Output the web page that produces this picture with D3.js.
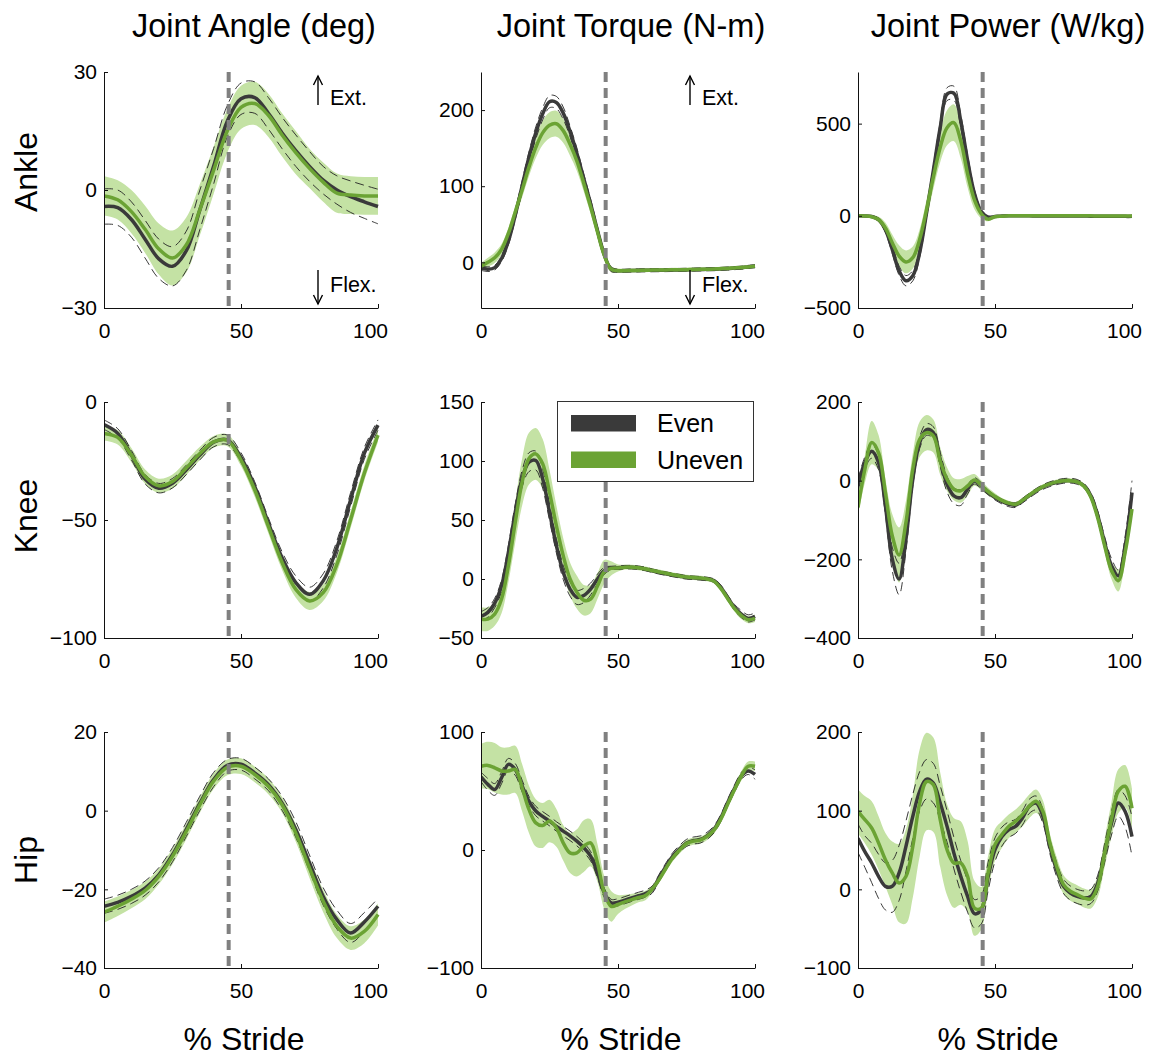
<!DOCTYPE html>
<html>
<head>
<meta charset="utf-8">
<script src="https://cdn.jsdelivr.net/npm/d3@7"></script>
<style>
  body { margin: 0; background: #fff; }
  text { font-family: "Liberation Sans", Arial, Helvetica, sans-serif; }
</style>
</head>
<body>
<svg id="chart" width="1156" height="1057"></svg>
<script>
// % stride sample points
const strideCoarse = [0, 5, 10, 15, 20, 25, 30, 35, 40, 45, 50, 55, 60, 65, 70, 75, 80, 85, 90, 95, 100];
const strideFine = [0, 2.5, 5, 7.5, 10, 12.5, 15, 17.5, 20, 22.5,
  25, 27.5, 30, 32.5, 35, 37.5, 40, 42.5, 45, 47.5,
  50, 52.5, 55, 57.5, 60, 62.5, 65, 67.5, 70, 72.5,
  75, 77.5, 80, 82.5, 85, 87.5, 90, 92.5, 95, 97.5, 100];

const colTitles = ['Joint Angle (deg)', 'Joint Torque (N-m)', 'Joint Power (W/kg)'];
const rowTitles = ['Ankle', 'Knee', 'Hip'];
const seriesNames = ['Even', 'Uneven'];
const xTicks = [0, 50, 100];
const toeOff = 45.5;

// ---- ankle ----
const ankleAngleEven = [-4.2, -4.5, -7.5, -12.5, -17.5, -19.4, -15.5, -5, 6, 17.5, 23.2, 23.5, 19.5, 14.5, 10, 6, 2.5, 0, -1.7, -3, -4.2];
const ankleAngleEvenSd = [4.5, 4.5, 4.5, 4.8, 5, 5, 5, 5, 4.5, 4, 4, 4, 4, 4, 4, 3.8, 3.5, 3.6, 4, 4.2, 4.4];
const ankleAngleUneven = [-1.5, -2.5, -5.5, -10, -15, -17.3, -14, -5, 5, 15, 21, 22, 19, 14, 9.5, 5.5, 2, -0.8, -1.3, -1.5, -1.5];
const ankleAngleUnevenSd = [5, 5, 5.5, 6, 6.5, 7, 7, 6.5, 6, 5.5, 5.5, 5.5, 5.5, 5.5, 5.5, 5, 5, 5, 4.8, 4.8, 4.8];

const ankleTorqueEven = [-7.5, -9, -7, 5, 28, 62, 100, 138, 170, 195,
  211, 210, 196, 172, 143, 110, 77, 42, 10, -9,
  -11, -11, -10.8, -10.6, -10.5, -10.4, -10.3, -10.2, -10, -10,
  -9.8, -9.6, -9.4, -9.2, -9, -8.6, -8.2, -7.6, -7, -6, -5.2];
const ankleTorqueEvenSd = [3, 3, 3, 4, 5, 6, 7, 7, 8, 8,
  8, 8, 8, 7, 7, 6, 6, 5, 4, 3,
  2, 2, 2, 2, 2, 2, 2, 2, 2, 2,
  2, 2, 2, 2, 2, 2, 2, 2, 2, 2, 2];
const ankleTorqueUneven = [-5, 0, 6, 17, 38, 66, 95, 125, 151, 170,
  180, 182, 173, 155, 133, 104, 73, 40, 9, -9,
  -11, -11, -10.8, -10.6, -10.4, -10.2, -10, -10, -9.8, -9.8,
  -9.6, -9.4, -9.2, -9, -8.8, -8.4, -8, -7.4, -6.8, -6, -5];
const ankleTorqueUnevenSd = [4, 6, 7, 7, 7, 8, 10, 12, 14, 16,
  17, 17, 16, 15, 13, 11, 9, 7, 6, 4,
  3, 2.5, 2.5, 2.5, 2.5, 2.5, 2.5, 2.5, 2.5, 2.5,
  2.5, 2.5, 2.5, 2.5, 2.5, 2.5, 2.5, 2.5, 2.5, 2.5, 2.5];

const anklePowerEven = [0, -1, -4, -21, -75, -182, -298, -352, -325, -200,
  14, 246, 478, 660, 665, 514, 300, 121, 23, -7,
  -4, -1, 0, 0, 0, 0, -1, -1, -1, -1,
  -1, -1, -1, -1, -2, -2, -2, -2, -2, -3, -3];
const anklePowerEvenSd = [3, 3, 5, 8, 15, 22, 25, 28, 28, 25,
  22, 25, 30, 35, 38, 35, 30, 20, 10, 5,
  3, 3, 3, 3, 3, 3, 3, 3, 3, 3,
  3, 3, 3, 3, 3, 3, 3, 3, 3, 3, 3];
const anklePowerUneven = [0, -1, -5, -20, -66, -146, -218, -250, -227, -128,
  32, 210, 371, 478, 505, 407, 228, 86, 11, -18,
  -5, -2, 0, 0, 0, 0, 0, 0, 0, 0,
  0, 0, 0, 0, 0, -1, -1, -1, -1, -1, -1];
const anklePowerUnevenSd = [5, 5, 8, 15, 30, 45, 58, 62, 60, 55,
  55, 65, 80, 95, 100, 95, 75, 50, 25, 12,
  6, 4, 4, 4, 4, 4, 4, 4, 4, 4,
  4, 4, 4, 4, 4, 4, 4, 4, 4, 4, 4];

// ---- knee ----
const kneeAngleEven = [-9.6, -13.3, -22.5, -32.7, -36.5, -34.4, -28.8, -22.5, -17, -16, -23.5, -35.8, -51.3, -66, -76.5, -81.5, -75.8, -61.8, -41.4, -21.8, -9.8];
const kneeAngleEvenSd = [2, 2, 2, 2, 2, 2, 2, 2, 2, 2, 2, 2, 2.2, 2.5, 2.8, 3, 3, 3, 3, 2.5, 2.2];
const kneeAngleUneven = [-13.3, -15, -22.5, -31.6, -35.5, -33.7, -28, -21.8, -16.9, -16.2, -24.6, -37.2, -52.7, -68, -79.4, -84.3, -80.8, -68.8, -49.9, -30.2, -14];
const kneeAngleUnevenSd = [3, 3, 3, 3, 3, 3, 3, 2.8, 2.5, 2.5, 2.5, 3, 3, 3.2, 3.5, 3.8, 3.5, 3.5, 3.5, 3.2, 3];

const kneeTorqueEven = [-31.7, -28.3, -20.4, -5.7, 22.6, 56.6, 85, 99, 100.4, 85,
  56.6, 28.3, 5.7, -8.5, -15.6, -14, -8.5, 0, 7, 9.3,
  9.6, 10, 10, 9.5, 8.5, 7, 5.7, 4.5, 3.4, 2.4,
  1.4, 1, 0.6, 0, -1.4, -7, -15.6, -24, -29.7, -33.4, -31.7];
const kneeTorqueEvenSd = [4, 4, 4, 5, 6, 7, 7, 8, 8, 8,
  7, 6, 6, 6, 6, 6, 5, 4, 3, 1.5,
  1.5, 1.5, 1.5, 1.5, 1.5, 1.5, 1.5, 1.5, 1.5, 1.5,
  1.5, 1.5, 1.5, 1.5, 1.5, 2, 2, 2.5, 3, 3, 3];
const kneeTorqueUneven = [-34, -34, -29.7, -17, 11.3, 48, 82, 102, 106, 97.6,
  73.5, 45.3, 19.8, 0, -11.3, -18, -17, -6, 6.2, 9,
  9.3, 10, 10, 9.5, 8.5, 7.2, 6, 4.8, 3.6, 2.6,
  1.6, 1.2, 0.8, 0, -1.8, -8, -16.5, -25, -31, -34.5, -33.4];
const kneeTorqueUnevenSd = [10, 10, 10, 12, 14, 17, 20, 22, 22, 21,
  19, 17, 15, 14, 14, 13, 12, 11, 10, 6,
  3, 2, 2, 2, 2, 2, 2, 2, 2, 2,
  2, 2, 2, 2, 2, 2, 2.5, 2.5, 3, 3, 3];

const kneePowerEven = [-13, 46, 75, 46, -64, -199, -250, -149, 3.6, 96.7,
  130, 122, 54, -9, -38.7, -43, -21.7, -0.6, -13.3, -30,
  -43, -53, -60, -62, -51, -38, -26, -16, -9, -4,
  -0.6, 0, -3, -13, -38.7, -89, -157, -216, -242, -166, -30];
const kneePowerEvenSd = [15, 15, 18, 18, 22, 30, 40, 30, 18, 15,
  15, 15, 18, 20, 20, 20, 12, 8, 8, 6,
  6, 6, 6, 6, 6, 6, 6, 6, 6, 6,
  6, 6, 6, 6, 8, 12, 15, 18, 15, 25, 30];
const kneePowerUneven = [-68, 29, 96.7, 71, -30, -140, -189, -106, 29, 105,
  122, 113.6, 50, 3.6, -21.7, -26, -13.3, 2, -11.6, -28,
  -40, -50, -57, -60, -50, -37, -25, -15, -8, -3,
  0, 0, -3, -14, -42, -95, -165, -228, -254, -182, -72];
const kneePowerUnevenSd = [20, 35, 55, 45, 35, 55, 70, 55, 40, 45,
  45, 42, 35, 30, 28, 30, 25, 15, 12, 10,
  8, 6, 6, 6, 6, 6, 6, 6, 6, 6,
  6, 6, 6, 7, 8, 10, 15, 22, 28, 25, 20];

// ---- hip ----
const hipAngleEven = [-24.3, -23.3, -21.8, -19.7, -16.3, -11.2, -4.8, 1.9, 7.9, 11.5, 11.8, 9.6, 6.6, 1.9, -4.8, -13.3, -21.8, -27.7, -31.1, -28.3, -24.3];
const hipAngleEvenSd = [1.8, 1.8, 1.8, 1.8, 1.8, 1.8, 1.8, 1.8, 1.8, 1.5, 1.5, 1.5, 1.5, 1.8, 2, 2, 2.2, 2.4, 2.4, 2.4, 2];
const hipAngleUneven = [-25.8, -24.3, -22.5, -20.3, -16.7, -11.6, -5.3, 1.5, 7.5, 11, 11.3, 9.2, 6.2, 1.5, -5.7, -14.6, -23, -29.4, -32.4, -30.7, -26.4];
const hipAngleUnevenSd = [2.7, 2.5, 2.3, 2.2, 2, 2, 2, 2, 2, 2, 2, 2, 2, 2, 2.2, 2.5, 2.8, 3, 3, 3, 2.8];

const hipTorqueEven = [62, 55.6, 51.3, 61.2, 72.6, 68.3, 54.2, 41.4, 33, 28.5,
  24.5, 20, 16, 12, 7.5, 2, -5.2, -19.4, -36.3, -44.8,
  -44.3, -42.5, -40.6, -38.8, -37, -33.5, -23.6, -14, -5.2, 1,
  6, 8, 8.9, 12, 17.4, 27, 40, 52, 62.7, 67, 64];
const hipTorqueEvenSd = [4, 5, 5, 5, 5, 5, 5, 4, 4, 4,
  4, 4, 4, 4, 4, 4, 4, 4, 4, 3,
  3, 3, 3, 3, 3, 3, 3, 3, 3, 3,
  3, 3, 3, 3, 3, 3, 3, 3, 3, 3, 4];
const hipTorqueUneven = [71, 71.7, 69.7, 67, 67, 68.3, 52.8, 34.4, 23, 20.8,
  24.5, 18.8, 6.1, -2.4, -2.4, 3.3, 6.1, -10.9, -36.3, -47.7,
  -46.2, -44, -42, -40.3, -38.6, -33, -25, -15.5, -6.6, 0,
  5.5, 7.5, 8.3, 11.5, 16.8, 26, 38.6, 51, 62.7, 71, 71];
const hipTorqueUnevenSd = [19, 20, 21, 20, 20, 20, 20, 20, 20, 19,
  18, 16, 15, 17, 20, 22, 20, 16, 14, 13,
  8, 6, 5, 4, 4, 3, 3, 3, 3, 3,
  3, 3, 3, 3, 3, 3, 3, 3, 4, 4, 4];

const hipPowerEven = [65, 48, 33.5, 16.5, 3.8, 3.8, 20.8, 54.7, 92.8, 124.6,
  140, 135, 109.7, 80, 46, 16.5, -9, -31, -26, 16.5,
  50.4, 67, 75.8, 80, 90.7, 105.5, 109.7, 92.8, 54.7, 25,
  3.8, -4.7, -9, -11, -9, 8, 46, 84, 109.7, 99, 67];
const hipPowerEvenSd = [18, 20, 25, 28, 30, 33, 35, 32, 28, 25,
  25, 25, 22, 20, 20, 20, 20, 18, 18, 18,
  15, 12, 10, 9, 9, 9, 9, 9, 9, 9,
  9, 9, 9, 9, 9, 10, 12, 15, 17, 20, 25];
const hipPowerUneven = [99, 88.6, 78, 59, 37.7, 20.8, 8, 16.5, 54.7, 109.7,
  137, 133, 88.6, 50.4, 33.5, 33.5, 16.5, -24, -24, 20.8,
  56.8, 69.5, 80, 86.4, 95, 105.5, 112, 99, 59, 29,
  6, -2.5, -6.8, -11, -12.3, 3.8, 46, 88.6, 124.6, 131, 103];
const hipPowerUnevenSd = [28, 30, 34, 34, 34, 40, 50, 60, 65, 68,
  62, 60, 60, 58, 57, 53, 45, 35, 27, 22,
  20, 17, 15, 15, 15, 15, 15, 14, 12, 12,
  12, 12, 12, 12, 12, 14, 18, 22, 28, 27, 25];

// panel table built from the arrays above
const panels = [
  { row: 0, col: 0, stride: strideCoarse, domain: [-30, 30], ticks: [-30, 0, 30], even: ankleAngleEven, evenSd: ankleAngleEvenSd, uneven: ankleAngleUneven, unevenSd: ankleAngleUnevenSd, arrows: 214 },
  { row: 0, col: 1, stride: strideFine, domain: [-60, 250], ticks: [0, 100, 200], even: ankleTorqueEven, evenSd: ankleTorqueEvenSd, uneven: ankleTorqueUneven, unevenSd: ankleTorqueUnevenSd, arrows: 209 },
  { row: 0, col: 2, stride: strideFine, domain: [-500, 780], ticks: [-500, 0, 500], even: anklePowerEven, evenSd: anklePowerEvenSd, uneven: anklePowerUneven, unevenSd: anklePowerUnevenSd },
  { row: 1, col: 0, stride: strideCoarse, domain: [-100, 0], ticks: [-100, -50, 0], even: kneeAngleEven, evenSd: kneeAngleEvenSd, uneven: kneeAngleUneven, unevenSd: kneeAngleUnevenSd },
  { row: 1, col: 1, stride: strideFine, domain: [-50, 150], ticks: [-50, 0, 50, 100, 150], even: kneeTorqueEven, evenSd: kneeTorqueEvenSd, uneven: kneeTorqueUneven, unevenSd: kneeTorqueUnevenSd, legend: true },
  { row: 1, col: 2, stride: strideFine, domain: [-400, 200], ticks: [-400, -200, 0, 200], even: kneePowerEven, evenSd: kneePowerEvenSd, uneven: kneePowerUneven, unevenSd: kneePowerUnevenSd },
  { row: 2, col: 0, stride: strideCoarse, domain: [-40, 20], ticks: [-40, -20, 0, 20], even: hipAngleEven, evenSd: hipAngleEvenSd, uneven: hipAngleUneven, unevenSd: hipAngleUnevenSd },
  { row: 2, col: 1, stride: strideFine, domain: [-100, 100], ticks: [-100, 0, 100], even: hipTorqueEven, evenSd: hipTorqueEvenSd, uneven: hipTorqueUneven, unevenSd: hipTorqueUnevenSd },
  { row: 2, col: 2, stride: strideFine, domain: [-100, 200], ticks: [-100, 0, 100, 200], even: hipPowerEven, evenSd: hipPowerEvenSd, uneven: hipPowerUneven, unevenSd: hipPowerUnevenSd }
];

const colX = [104, 481, 858];
const rowY = [72, 402, 732];
const rowLabelY = [172, 516, 860];
const plotW = 274, plotH = 236;

const evenColor = '#3a3a3a';
const unevenColor = '#6ba334';
const bandColor = '#c4e2a4';

const svg = d3.select('#chart');

// column titles, row labels, x labels
colTitles.forEach((t, c) => {
  svg.append('text').attr('x', colX[c] + 150).attr('y', 37)
    .attr('text-anchor', 'middle').attr('font-size', 32.5).text(t);
  svg.append('text').attr('x', colX[c] + 140).attr('y', 1050)
    .attr('text-anchor', 'middle').attr('font-size', 32).text('% Stride');
});
rowTitles.forEach((t, r) => {
  svg.append('text').attr('transform', `translate(37,${rowLabelY[r]}) rotate(-90)`)
    .attr('text-anchor', 'middle').attr('font-size', 32).text(t);
});

panels.forEach((p, i) => {
  const g = svg.append('g').attr('transform', `translate(${colX[p.col]},${rowY[p.row]})`);
  const x = d3.scaleLinear().domain([0, 100]).range([0, plotW]);
  const y = d3.scaleLinear().domain(p.domain).range([plotH, 0]);

  g.append('clipPath').attr('id', 'clip' + i)
    .append('rect').attr('x', 0).attr('y', -2).attr('width', plotW + 2).attr('height', plotH + 2);
  const body = g.append('g').attr('clip-path', `url(#clip${i})`);

  const pts = p.stride.map((s, k) => ({
    s, em: p.even[k], es: p.evenSd[k], um: p.uneven[k], us: p.unevenSd[k]
  }));
  const curve = d3.curveCatmullRom;

  // uneven +/- sd band
  body.append('path').datum(pts)
    .attr('d', d3.area().x(d => x(d.s)).y0(d => y(d.um - d.us)).y1(d => y(d.um + d.us)).curve(curve))
    .attr('fill', bandColor);

  // even +/- sd dashed
  [1, -1].forEach(sign => {
    body.append('path').datum(pts)
      .attr('d', d3.line().x(d => x(d.s)).y(d => y(d.em + sign * d.es)).curve(curve))
      .attr('fill', 'none').attr('stroke', '#222').attr('stroke-width', 0.9)
      .attr('stroke-dasharray', '9,5');
  });

  body.append('path').datum(pts)
    .attr('d', d3.line().x(d => x(d.s)).y(d => y(d.em)).curve(curve))
    .attr('fill', 'none').attr('stroke', evenColor).attr('stroke-width', 3.5);
  body.append('path').datum(pts)
    .attr('d', d3.line().x(d => x(d.s)).y(d => y(d.um)).curve(curve))
    .attr('fill', 'none').attr('stroke', unevenColor).attr('stroke-width', 3.5);

  // toe-off line
  g.append('line')
    .attr('x1', x(toeOff)).attr('x2', x(toeOff)).attr('y1', 0).attr('y2', plotH)
    .attr('stroke', '#808080').attr('stroke-width', 4).attr('stroke-dasharray', '10,6');

  // axes
  const xa = g.append('g').attr('transform', `translate(0,${plotH})`)
    .call(d3.axisBottom(x).tickValues(xTicks).tickSizeInner(-4).tickSizeOuter(0).tickPadding(15));
  xa.selectAll('.tick text').filter(d => d === 100).attr('dx', -8);
  const ya = g.append('g')
    .call(d3.axisLeft(y).tickValues(p.ticks).tickSizeInner(-4).tickSizeOuter(0).tickPadding(7));
  [xa, ya].forEach(a => {
    a.attr('font-size', 21).attr('color', '#111');
    a.selectAll('text').attr('fill', '#000');
  });

  if (p.arrows) {
    const ax = p.arrows;
    g.append('line').attr('x1', ax).attr('x2', ax).attr('y1', 4).attr('y2', 33)
      .attr('stroke', '#000').attr('stroke-width', 1.4);
    g.append('path').attr('d', `M${ax - 4.5},${13} L${ax},${4} L${ax + 4.5},${13}`)
      .attr('fill', 'none').attr('stroke', '#000').attr('stroke-width', 1.4);
    g.append('text').attr('x', ax + 12).attr('y', 33).attr('font-size', 21.5).text('Ext.');

    g.append('line').attr('x1', ax).attr('x2', ax).attr('y1', 198).attr('y2', 232)
      .attr('stroke', '#000').attr('stroke-width', 1.4);
    g.append('path').attr('d', `M${ax - 4.5},${223} L${ax},${232} L${ax + 4.5},${223}`)
      .attr('fill', 'none').attr('stroke', '#000').attr('stroke-width', 1.4);
    g.append('text').attr('x', ax + 12).attr('y', 220).attr('font-size', 21.5).text('Flex.');
  }

  if (p.legend) {
    const lg = g.append('g').attr('transform', 'translate(76,-1)');
    lg.append('rect').attr('x', 0.5).attr('y', 0.5).attr('width', 196).attr('height', 80)
      .attr('fill', '#fff').attr('stroke', '#333').attr('stroke-width', 1);
    [evenColor, unevenColor].forEach((c, k) => {
      lg.append('rect').attr('x', 14).attr('y', 14 + k * 36.5).attr('width', 65).attr('height', 16.5).attr('fill', c);
      lg.append('text').attr('x', 100).attr('y', 31 + k * 36.5).attr('font-size', 25).text(seriesNames[k]);
    });
  }
});
</script>
</body>
</html>
